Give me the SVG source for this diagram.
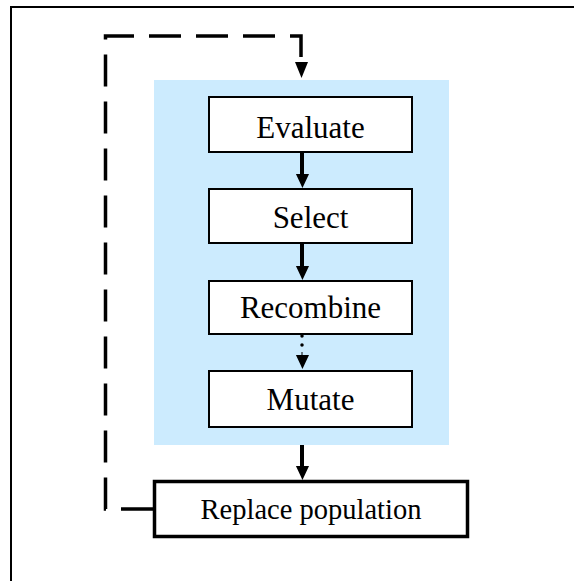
<svg xmlns="http://www.w3.org/2000/svg" width="574" height="581" viewBox="0 0 574 581">
<style>
.box{fill:#fff;stroke:#000;stroke-width:2}
.lbl{font-family:"Liberation Serif","Times New Roman",serif;font-size:31px;fill:#000;text-anchor:middle}
.solid{stroke:#000;stroke-width:4;fill:none}
</style>
<defs>
<marker id="ah" markerWidth="14" markerHeight="15" refX="0" refY="7.5" orient="auto" markerUnits="userSpaceOnUse" viewBox="0 0 15 14">
<path d="M0,0 L15,7 L0,14 Z" fill="#000"/>
</marker>
</defs>
<rect x="0" y="0" width="574" height="581" fill="#fff"/>
<rect x="11" y="7" width="620" height="620" fill="none" stroke="#000" stroke-width="2"/>
<rect x="154" y="80" width="295" height="365" fill="#CCEBFE"/>
<g id="connectors">
<line class="solid" x1="302" y1="153" x2="302" y2="174" marker-end="url(#ah)"/>
<line class="solid" x1="302" y1="244" x2="302" y2="266" marker-end="url(#ah)"/>
<line x1="302" y1="336" x2="302" y2="352" stroke="#000" stroke-width="3.5" stroke-dasharray="0 9" stroke-linecap="round"/>
<line x1="302" y1="352" x2="302" y2="355" stroke="#000" stroke-width="1" marker-end="url(#ah)"/>
<line class="solid" x1="302" y1="445" x2="302" y2="466" marker-end="url(#ah)"/>
<path d="M153,509 H105.5 V36 H301 V62" fill="none" stroke="#000" stroke-width="3.5" stroke-dasharray="32 15"/>
<path d="M295,62 L308,62 L301.5,78 Z" fill="#000"/>
</g>
<g id="evaluate"><rect class="box" x="209" y="97" width="203" height="55"/><text class="lbl" x="310.5" y="138">Evaluate</text></g>
<g id="select"><rect class="box" x="209" y="189" width="203" height="54"/><text class="lbl" x="310.5" y="228">Select</text></g>
<g id="recombine"><rect class="box" x="209" y="281" width="203" height="53"/><text class="lbl" x="310.5" y="318">Recombine</text></g>
<g id="mutate"><rect class="box" x="209" y="371" width="203" height="56"/><text class="lbl" x="310.5" y="410">Mutate</text></g>
<g id="replace"><rect x="154.5" y="481.5" width="313" height="55" fill="#fff" stroke="#000" stroke-width="3.5"/><text class="lbl" style="font-size:28.5px" x="311" y="519">Replace population</text></g>
</svg>
